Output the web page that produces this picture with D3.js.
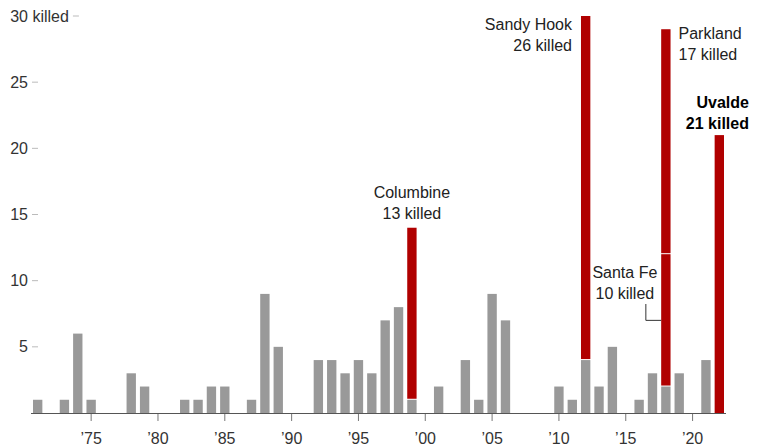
<!DOCTYPE html>
<html>
<head>
<meta charset="utf-8">
<script src="https://cdn.jsdelivr.net/npm/d3@7"></script>
<style>
  body { margin: 0; background: #fff; }
  text { font-family: "Liberation Sans", Arial, sans-serif; }
</style>
</head>
<body>
<div id="chart"></div>
<script>
// killed per year in school shootings, 1971-2022
var years = d3.range(1971, 2023);
var otherKilled = [1, 0, 1, 6, 1, 0, 0, 3, 2, 0,
                   0, 1, 1, 2, 2, 0, 1, 9, 5, 0,
                   0, 4, 4, 3, 4, 3, 7, 8, 1, 0,
                   2, 0, 4, 1, 9, 7, 0, 0, 0, 2,
                   1, 4, 2, 5, 0, 1, 3, 2, 3, 0,
                   4, 0];
// notable shootings drawn in red, stacked on top of the gray
var notable = [
  { year: 1999, name: "Columbine", killed: 13 },
  { year: 2012, name: "Sandy Hook", killed: 26 },
  { year: 2018, name: "Santa Fe", killed: 10 },
  { year: 2018, name: "Parkland", killed: 17 },
  { year: 2022, name: "Uvalde", killed: 21 }
];
var yTicks = [5, 10, 15, 20, 25, 30];
var xTicks = [1975, 1980, 1985, 1990, 1995, 2000, 2005, 2010, 2015, 2020];

var width = 780, height = 448;
var margin = { top: 16, right: 54, bottom: 35, left: 31 };
var fontSize = 16;

var svg = d3.select("#chart").append("svg")
  .attr("width", width)
  .attr("height", height);

var x = d3.scaleBand()
  .domain(years)
  .range([margin.left, width - margin.right])
  .paddingInner(0.3)
  .paddingOuter(0.15);

var y = d3.scaleLinear()
  .domain([0, 30])
  .range([height - margin.bottom, margin.top]);

// build stacked segments
var segments = [];
years.forEach(function(yr, i) {
  var base = 0;
  if (otherKilled[i] > 0) {
    segments.push({ year: yr, y0: 0, y1: otherKilled[i], red: false });
  }
  base = otherKilled[i];
  notable.filter(function(d) { return d.year === yr; }).forEach(function(d) {
    segments.push({ year: yr, y0: base, y1: base + d.killed, red: true });
    base += d.killed;
  });
});

// y ticks
var yAxisG = svg.append("g").attr("class", "y-axis");
yTicks.forEach(function(t) {
  var txt = yAxisG.append("text")
    .attr("y", y(t))
    .attr("dy", "0.35em")
    .attr("font-size", fontSize)
    .attr("fill", "#333");
  txt.append("tspan").text(t);
  var numW = txt.node().getComputedTextLength();
  if (t === 30) txt.append("tspan").text(" killed");
  var fullW = txt.node().getComputedTextLength();
  var xStart = 28 - numW;
  txt.attr("x", xStart);
  yAxisG.append("line")
    .attr("x1", xStart + fullW + 4)
    .attr("x2", xStart + fullW + 10)
    .attr("y1", y(t))
    .attr("y2", y(t))
    .attr("stroke", "#bbb")
    .attr("stroke-width", 1);
});

// bars
svg.append("g").selectAll("rect")
  .data(segments)
  .join("rect")
  .attr("x", function(d) { return x(d.year); })
  .attr("width", x.bandwidth())
  .attr("y", function(d) { return y(d.y1); })
  .attr("height", function(d) {
    var h = y(d.y0) - y(d.y1);
    return d.y0 > 0 ? h - 1 : h;
  })
  .attr("fill", function(d) { return d.red ? "#b00000" : "#999"; });

// x axis
var xAxisG = svg.append("g").attr("class", "x-axis");
xAxisG.append("line")
  .attr("x1", margin.left)
  .attr("x2", width - margin.right)
  .attr("y1", y(0) + 0.5)
  .attr("y2", y(0) + 0.5)
  .attr("stroke", "#555");
xTicks.forEach(function(t) {
  var cx = x(t) + x.bandwidth() / 2;
  xAxisG.append("line")
    .attr("x1", cx).attr("x2", cx)
    .attr("y1", y(0) + 1).attr("y2", y(0) + 8)
    .attr("stroke", "#777");
  xAxisG.append("text")
    .attr("x", cx)
    .attr("y", y(0) + 31)
    .attr("text-anchor", "middle")
    .attr("font-size", fontSize)
    .attr("fill", "#333")
    .text("\u2019" + String(t).slice(2));
});

// annotations
function label(lines, xPos, yPos, anchor, bold) {
  var t = svg.append("text")
    .attr("text-anchor", anchor)
    .attr("font-size", fontSize)
    .attr("fill", bold ? "#000" : "#222")
    .attr("font-weight", bold ? "bold" : "normal");
  lines.forEach(function(l, i) {
    t.append("tspan").attr("x", xPos).attr("y", yPos + i * 21).text(l);
  });
}
function cx(yr) { return x(yr) + x.bandwidth() / 2; }

label(["Columbine", "13 killed"], cx(1999), y(14) - 30, "middle");
label(["Sandy Hook", "26 killed"], x(2012) - 9, 30, "end");
label(["Parkland", "17 killed"], x(2018) + x.bandwidth() + 8, 39, "start");
label(["Uvalde", "21 killed"], x(2022) + x.bandwidth() + 25, 108, "end", true);
label(["Santa Fe", "10 killed"], cx(2018) - 41, 278, "middle");

// Santa Fe leader line
var sfMid = y(2 + 5);
svg.append("path")
  .attr("d", "M" + (cx(2018) - 20) + "," + 304 + "V" + sfMid + "H" + x(2018))
  .attr("fill", "none")
  .attr("stroke", "#333")
  .attr("stroke-width", 1);
</script>
</body>
</html>
